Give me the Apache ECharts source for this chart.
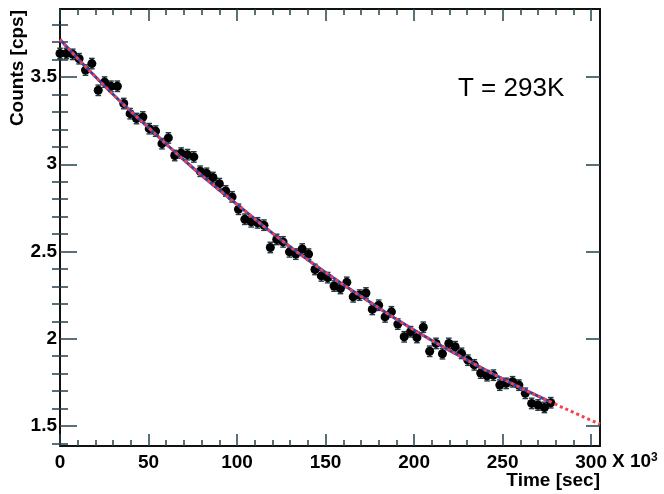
<!DOCTYPE html>
<html>
<head>
<meta charset="utf-8">
<script src="https://cdn.jsdelivr.net/npm/echarts@6/dist/echarts.min.js"></script>
<style>html,body{margin:0;padding:0;background:#fff}#c{width:664px;height:494px}</style>
</head>
<body>
<div id="c"></div>
<script>
// ---- data ----
const times = [0, 3.6, 7.2, 10.8, 14.4, 18, 21.6, 25.2, 28.8, 32.4, 36, 39.6, 43.2, 46.8, 50.4, 54, 57.6, 61.2, 64.8, 68.4,
  72, 75.6, 79.2, 82.8, 86.4, 90, 93.6, 97.2, 100.8, 104.4, 108, 111.6, 115.2, 118.8, 122.4, 126, 129.6, 133.2, 136.8, 140.4,
  144, 147.6, 151.2, 154.8, 158.4, 162, 165.6, 169.2, 172.8, 176.4, 180, 183.6, 187.2, 190.8, 194.4, 198, 201.6, 205.2, 208.8, 212.4,
  216, 219.6, 223.2, 226.8, 230.4, 234, 237.6, 241.2, 244.8, 248.4, 252, 255.6, 259.2, 262.8, 266.4, 270, 273.6, 277.2];
const counts = [3.635, 3.635, 3.63, 3.605, 3.54, 3.577, 3.424, 3.471, 3.447, 3.447, 3.348, 3.29, 3.262, 3.271, 3.204, 3.19, 3.118, 3.151, 3.05, 3.064,
  3.055, 3.042, 2.96, 2.948, 2.924, 2.889, 2.847, 2.813, 2.742, 2.685, 2.67, 2.664, 2.651, 2.523, 2.569, 2.555, 2.498, 2.485, 2.514, 2.485,
  2.397, 2.36, 2.35, 2.302, 2.288, 2.323, 2.24, 2.25, 2.262, 2.168, 2.192, 2.125, 2.154, 2.084, 2.011, 2.04, 2.007, 2.066, 1.928, 1.973,
  1.914, 1.973, 1.954, 1.916, 1.877, 1.85, 1.803, 1.788, 1.791, 1.734, 1.744, 1.753, 1.734, 1.687, 1.629, 1.62, 1.606, 1.633];
const countErr = 0.03;
const fitTimes = [0, 25, 50, 75, 100, 125, 150, 175, 200, 225, 250, 277.2, 305];
const fitCounts = [3.715, 3.45, 3.21, 2.98, 2.77, 2.565, 2.38, 2.21, 2.05, 1.905, 1.77, 1.637, 1.51];
const blueEnd = 277.2;
const xTicks = [0, 50, 100, 150, 200, 250, 300];
const yTicks = [1.5, 2, 2.5, 3, 3.5];
const xRange = [0, 305];
const yRange = [1.385, 3.89];
const annotation = 'T = 293K';
const xTitle = 'Time [sec]';
const yTitle = 'Counts [cps]';

// ---- derived ----
const xMinor = [], yMinor = [];
for (let v = 10; v <= 300; v += 10) if (v % 50 !== 0) xMinor.push(v);
for (let k = 14; k <= 38; k++) if (k % 5 !== 0) yMinor.push(k / 10);

const points = times.map((t, i) => [t, counts[i]]);
const errData = times.map((t, i) => [t, counts[i] - countErr, counts[i] + countErr]);
const fitAll = fitTimes.map((t, i) => [t, fitCounts[i]]);
const fitBlue = fitAll.filter(p => p[0] <= blueEnd);

const FONT = '"Liberation Sans", Arial, sans-serif';
const FS = 19;
const lbl = { fontFamily: FONT, fontWeight: 'bold', fontSize: FS, color: '#000' };
const tickColor = '#25424e';
const frame = { show: true, onZero: false, lineStyle: { color: '#111', width: 2 } };
const noLine = { show: false };

function xAx(pos, vals, len, showLabel, line) {
  return {
    type: 'value', position: pos, min: xRange[0], max: xRange[1], gridIndex: 0,
    axisLine: line ? frame : noLine,
    splitLine: { show: false },
    axisTick: { show: true, inside: true, length: len, customValues: vals, lineStyle: { color: tickColor, width: 1.5 } },
    axisLabel: showLabel ? Object.assign({ show: true, customValues: vals, margin: 7 }, lbl) : { show: false }
  };
}
function yAx(pos, vals, len, showLabel, line) {
  return {
    type: 'value', position: pos, min: yRange[0], max: yRange[1], gridIndex: 0,
    axisLine: line ? frame : noLine,
    splitLine: { show: false },
    axisTick: { show: true, inside: true, length: len, customValues: vals, lineStyle: { color: tickColor, width: 1.5 } },
    axisLabel: showLabel ? Object.assign({ show: true, customValues: vals, margin: 3 }, lbl) : { show: false }
  };
}

const chart = echarts.init(document.getElementById('c'), null, { renderer: 'canvas' });
chart.setOption({
  animation: false,
  backgroundColor: '#fff',
  grid: { left: 60, top: 9, width: 540, height: 437, containLabel: false },
  xAxis: [
    xAx('bottom', xTicks, 12, true, true),
    xAx('bottom', xMinor, 6, false, false),
    xAx('top', xTicks, 12, false, true),
    xAx('top', xMinor, 6, false, false)
  ],
  yAxis: [
    yAx('left', yTicks, 17, true, true),
    yAx('left', yMinor, 8, false, false),
    yAx('right', yTicks, 14, false, true),
    yAx('right', yMinor, 8, false, false)
  ],
  series: [
    {
      type: 'custom', xAxisIndex: 0, yAxisIndex: 0, z: 2,
      data: errData,
      renderItem: function (params, api) {
        const lo = api.coord([api.value(0), api.value(1)]);
        const hi = api.coord([api.value(0), api.value(2)]);
        const cw = 2.8;
        const st = { stroke: '#1f3a46', lineWidth: 1.4 };
        return {
          type: 'group', children: [
            { type: 'line', shape: { x1: lo[0], y1: lo[1], x2: hi[0], y2: hi[1] }, style: st },
            { type: 'line', shape: { x1: lo[0] - cw, y1: lo[1], x2: lo[0] + cw, y2: lo[1] }, style: st },
            { type: 'line', shape: { x1: hi[0] - cw, y1: hi[1], x2: hi[0] + cw, y2: hi[1] }, style: st }
          ]
        };
      }
    },
    {
      type: 'scatter', xAxisIndex: 0, yAxisIndex: 0, z: 3,
      data: points, symbol: 'circle', symbolSize: 9,
      itemStyle: { color: '#000', opacity: 1 }
    },
    {
      type: 'line', xAxisIndex: 0, yAxisIndex: 0, z: 4,
      data: fitBlue, smooth: true, showSymbol: false,
      lineStyle: { color: '#3443a6', width: 3 }
    },
    {
      type: 'line', xAxisIndex: 0, yAxisIndex: 0, z: 5,
      data: fitAll, smooth: true, showSymbol: false,
      lineStyle: { color: '#f2414d', width: 3, type: [3, 3] }
    }
  ],
  graphic: [
    { type: 'text', x: 458, y: 89, style: { text: annotation, fontFamily: FONT, fontSize: 26, fill: '#000', verticalAlign: 'middle' } },
    { type: 'text', x: 600, y: 481, style: { text: xTitle, fontFamily: FONT, fontWeight: 'bold', fontSize: FS, fill: '#000', align: 'right', verticalAlign: 'middle' } },
    { type: 'text', x: 612, y: 462, style: { text: 'X 10{s|3}', fontFamily: FONT, fontWeight: 'bold', fontSize: FS, fill: '#000', align: 'left', verticalAlign: 'middle',
        rich: { s: { fontFamily: FONT, fontWeight: 'bold', fontSize: 12, verticalAlign: 'top', padding: [0, 0, 8, 0] } } } },
    { type: 'text', x: 18, y: 10, rotation: Math.PI / 2, style: { text: yTitle, fontFamily: FONT, fontWeight: 'bold', fontSize: FS, fill: '#000', align: 'right', verticalAlign: 'middle' } }
  ]
});
</script>
</body>
</html>
